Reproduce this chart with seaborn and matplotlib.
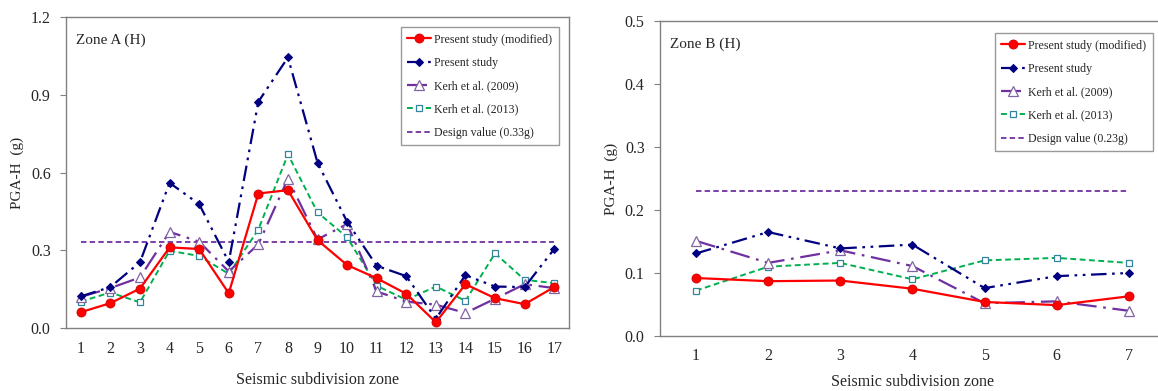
import numpy as np
import pandas as pd
import matplotlib
matplotlib.use("Agg")
import matplotlib.pyplot as plt
import seaborn as sns

# --- data ---
zones_a = list(range(1, 18))
mod_a = [0.061, 0.096, 0.152, 0.311, 0.305, 0.134, 0.519, 0.532, 0.339, 0.243,
         0.192, 0.132, 0.022, 0.169, 0.115, 0.092, 0.158]
present_a = [0.122, 0.158, 0.254, 0.560, 0.478, 0.255, 0.873, 1.044, 0.638, 0.410,
             0.240, 0.200, 0.036, 0.204, 0.160, 0.158, 0.305]
kerh09_a = [0.120, 0.154, 0.195, 0.371, 0.333, 0.218, 0.323, 0.576, 0.342, 0.401,
            0.141, 0.102, 0.090, 0.058, 0.113, 0.169, 0.154]
kerh13_a = [0.102, 0.137, 0.099, 0.298, 0.278, 0.209, 0.380, 0.670, 0.446, 0.350,
            0.163, 0.109, 0.160, 0.105, 0.288, 0.186, 0.173]
design_a = 0.33

zones_b = list(range(1, 8))
mod_b = [0.092, 0.087, 0.088, 0.075, 0.054, 0.049, 0.063]
present_b = [0.131, 0.165, 0.139, 0.145, 0.076, 0.095, 0.100]
kerh09_b = [0.151, 0.116, 0.136, 0.111, 0.052, 0.055, 0.040]
kerh13_b = [0.072, 0.110, 0.116, 0.090, 0.120, 0.124, 0.116]
design_b = 0.23

sns.set_style("white")
plt.rcParams['font.family'] = ['Liberation Serif', 'DejaVu Serif']

fig = plt.figure(figsize=(11.58, 3.91), dpi=100)
ax1 = fig.add_axes([0.0570, 0.1611, 0.4344, 0.7954])
ax2 = fig.add_axes([0.5699, 0.1407, 0.4361, 0.8056])


def draw(ax, zones, mod, present, k09, k13, design, ymax, step, title,
         leg_anchor, xlab_y):
    sns.lineplot(x=zones, y=mod, ax=ax, color="#FF0000", lw=1.6, marker="o",
                 markersize=6.5, markeredgecolor="#D00000", markeredgewidth=0.6,
                 label="Present study (modified)", zorder=6)
    sns.lineplot(x=zones, y=present, ax=ax, color="#000080", lw=1.6, marker="D",
                 markersize=4.5, markeredgecolor="#000080",
                 label="Present study", zorder=5)
    ax.lines[-1].set_dashes((7, 2.5, 1.2, 2.5, 1.2, 2.5))
    sns.lineplot(x=zones, y=k09, ax=ax, color="#7030A0", lw=1.6, marker="^",
                 markersize=6.5, markerfacecolor="white", markeredgecolor="#8064A2",
                 markeredgewidth=0.9, label="Kerh et al. (2009)", zorder=4)
    ax.lines[-1].set_dashes((9, 3, 1.2, 3))
    sns.lineplot(x=zones, y=k13, ax=ax, color="#00B050", lw=1.4, marker="s",
                 markersize=4.5, markerfacecolor="white", markeredgecolor="#31859C",
                 markeredgewidth=0.9, label="Kerh et al. (2013)", zorder=3)
    ax.lines[-1].set_dashes((3, 1.8))
    sns.lineplot(x=zones, y=[design] * len(zones), ax=ax, color="#7030A0", lw=1.3,
                 label=f"Design value ({design:.2f}g)", zorder=2)
    ax.lines[-1].set_dashes((3, 1.8))

    ax.set_xlim(0.5, len(zones) + 0.5)
    ax.set_ylim(0, ymax)
    yt = np.arange(0, ymax + 1e-9, step)
    ax.set_yticks(yt)
    ax.set_yticklabels([f"{v:.1f}" for v in yt])
    ax.set_xticks(zones)
    ax.set_xticks(np.arange(0.5, len(zones) + 0.6, 1), minor=True)
    ax.tick_params(axis="x", which="major", length=0, pad=9, labelsize=11.5)
    ax.tick_params(axis="x", which="minor", direction="in", length=4,
                   color="#808080", width=0.8)
    ax.tick_params(axis="y", which="major", direction="out", length=4,
                   color="#808080", width=0.8, left=True, labelsize=11.5, pad=7)
    for s in ax.spines.values():
        s.set_color("#808080")
        s.set_linewidth(1.0)
    ax.set_xlabel("Seismic subdivision zone", fontsize=11.5, va="center")
    ax.xaxis.set_label_coords(0.5, xlab_y)
    ax.set_ylabel("PGA-H  (g)", fontsize=11, labelpad=5)
    ax.text(0.02, 0.925, title, transform=ax.transAxes, fontsize=11,
            va="center", ha="left")
    leg = ax.legend(loc="upper right", bbox_to_anchor=leg_anchor, fontsize=8.6,
                    frameon=True, fancybox=False, edgecolor="#808080",
                    handlelength=2.0, handletextpad=0.25, borderpad=0.55,
                    labelspacing=0.95, borderaxespad=0)
    leg.get_frame().set_linewidth(1.0)


draw(ax1, zones_a, mod_a, present_a, kerh09_a, kerh13_a, design_a, 1.2, 0.3,
     "Zone A (H)", (0.980, 0.968), -0.167)
draw(ax2, zones_b, mod_b, present_b, kerh09_b, kerh13_b, design_b, 0.5, 0.1,
     "Zone B (H)", (0.976, 0.962), -0.145)

fig.savefig("out.png", dpi=100)
